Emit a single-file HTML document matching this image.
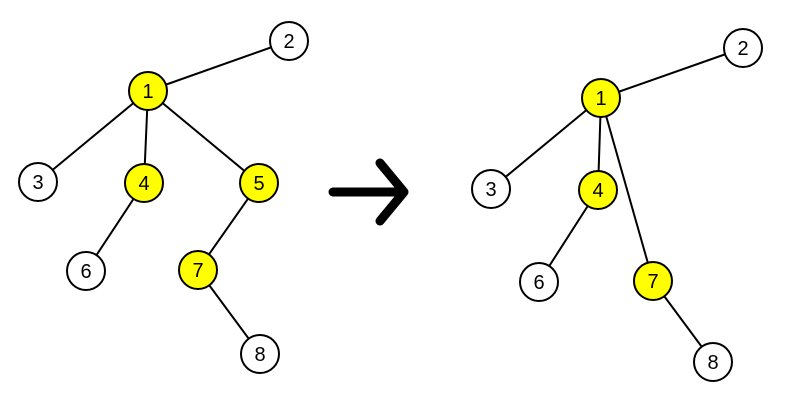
<!DOCTYPE html>
<html><head><style>body{margin:0;background:#fff}svg{display:block}</style></head><body>
<svg width="800" height="400" xmlns="http://www.w3.org/2000/svg" font-family="Liberation Sans, sans-serif" font-size="20">
<g stroke="#000" stroke-width="2">
<line x1="148" y1="91" x2="289" y2="41"/><line x1="148" y1="91" x2="38" y2="182"/>
<line x1="148" y1="91" x2="144" y2="183"/><line x1="148" y1="91" x2="259" y2="183"/>
<line x1="144" y1="183" x2="86" y2="271"/><line x1="259" y1="183" x2="198" y2="270"/>
<line x1="198" y1="270" x2="260" y2="354"/>
<line x1="601" y1="98" x2="743" y2="48"/><line x1="601" y1="98" x2="491" y2="189"/>
<line x1="601" y1="98" x2="598" y2="190"/><line x1="601" y1="98" x2="653" y2="281"/>
<line x1="598" y1="190" x2="539" y2="282"/><line x1="653" y1="281" x2="713" y2="362"/>
</g>
<g stroke="#000" stroke-width="2">
<circle cx="148" cy="91" r="19" fill="#ffff00"/><circle cx="289" cy="41" r="19" fill="#fff"/>
<circle cx="38" cy="182" r="19" fill="#fff"/><circle cx="144" cy="183" r="19" fill="#ffff00"/>
<circle cx="259" cy="183" r="19" fill="#ffff00"/><circle cx="86" cy="271" r="19" fill="#fff"/>
<circle cx="198" cy="270" r="19" fill="#ffff00"/><circle cx="260" cy="354" r="19" fill="#fff"/>
<circle cx="601" cy="98" r="19" fill="#ffff00"/><circle cx="743" cy="48" r="19" fill="#fff"/>
<circle cx="491" cy="189" r="19" fill="#fff"/><circle cx="598" cy="190" r="19" fill="#ffff00"/>
<circle cx="539" cy="282" r="19" fill="#fff"/><circle cx="653" cy="281" r="19" fill="#ffff00"/>
<circle cx="713" cy="362" r="19" fill="#fff"/>
</g>
<g text-anchor="middle" fill="#000">
<text x="148" y="98">1</text><text x="289" y="48">2</text><text x="38" y="189">3</text>
<text x="144" y="190">4</text><text x="259" y="190">5</text><text x="86" y="278">6</text>
<text x="198" y="277">7</text><text x="260" y="361">8</text>
<text x="601" y="105">1</text><text x="743" y="55">2</text><text x="491" y="196">3</text>
<text x="598" y="197">4</text><text x="539" y="289">6</text><text x="653" y="288">7</text>
<text x="713" y="369">8</text>
</g>
<g stroke="#000" stroke-width="9" stroke-linecap="round" stroke-linejoin="round" fill="none">
<line x1="333" y1="192" x2="402" y2="192"/>
<polyline points="380,163 404,192 380,221"/>
</g>
</svg>
</body></html>
